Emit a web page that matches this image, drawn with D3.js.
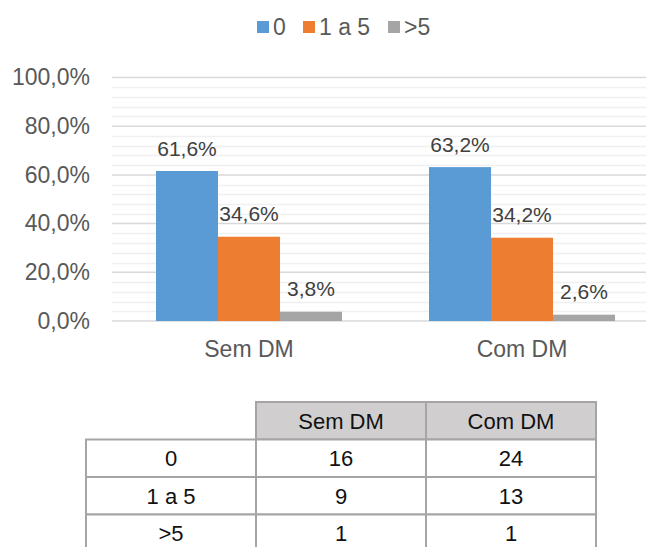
<!DOCTYPE html>
<html>
<head>
<meta charset="utf-8">
<script src="https://cdn.jsdelivr.net/npm/d3@7"></script>
<style>
  html, body { margin: 0; padding: 0; background: #fff; }
  svg { display: block; font-family: "Liberation Sans", Arial, sans-serif; }
</style>
</head>
<body>
<svg id="chart" width="646" height="547"></svg>
<script>
// ---- data ----
const categories = ["Sem DM", "Com DM"];
const seriesNames = ["0", "1 a 5", ">5"];
const seriesColors = ["#5b9bd5", "#ed7d31", "#a5a5a5"];
const values0 = [61.6, 63.2];
const values1to5 = [34.6, 34.2];
const valuesOver5 = [3.8, 2.6];
const yTicks = [0, 20, 40, 60, 80, 100];
const tableRowLabels = ["0", "1 a 5", ">5"];
const tableSemDM = [16, 9, 1];
const tableComDM = [24, 13, 1];

const seriesValues = [values0, values1to5, valuesOver5];
const fmt = v => d3.format(".1f")(v).replace(".", ",") + "%";

const svg = d3.select("#chart");

// ---- scales ----
const y = d3.scaleLinear().domain([0, 100]).range([321, 77.5]);
const x0 = d3.scaleBand().domain(categories).range([112.5, 658.5])
  .paddingInner(0.3187).paddingOuter(0.1593);
const x1 = d3.scaleBand().domain(seriesNames).range([0, x0.bandwidth()]);

// ---- gridlines ----
const minorTicks = d3.range(0, 101, 4).filter(v => v % 20 !== 0);
svg.append("g").selectAll("line").data(minorTicks).join("line")
  .attr("x1", 112).attr("x2", 658)
  .attr("y1", d => Math.round(y(d)) + 0.5).attr("y2", d => Math.round(y(d)) + 0.5)
  .attr("stroke", "#f0f0f0").attr("stroke-width", 1.5);
svg.append("g").selectAll("line").data(yTicks).join("line")
  .attr("x1", 112).attr("x2", 658)
  .attr("y1", d => y(d)).attr("y2", d => y(d))
  .attr("stroke", "#d9d9d9").attr("stroke-width", 1.5);

// ---- y axis labels ----
const yAxis = d3.axisLeft(y).tickValues(yTicks).tickFormat(fmt).tickSize(0).tickPadding(0);
const gy = svg.append("g").attr("transform", "translate(90,0)").call(yAxis);
gy.select(".domain").remove();
gy.selectAll("text").attr("font-size", 23).attr("fill", "#595959")
  .attr("font-family", "'Liberation Sans', Arial, sans-serif");

// ---- bars ----
const groups = svg.append("g").selectAll("g").data(categories).join("g")
  .attr("transform", d => `translate(${x0(d)},0)`);
groups.selectAll("rect")
  .data((c, ci) => seriesNames.map((s, si) => ({ s, si, v: seriesValues[si][ci] })))
  .join("rect")
  .attr("x", d => x1(d.s)).attr("width", x1.bandwidth())
  .attr("y", d => y(d.v)).attr("height", d => y(0) - y(d.v))
  .attr("fill", d => seriesColors[d.si]);
groups.selectAll("text")
  .data((c, ci) => seriesNames.map((s, si) => ({ s, si, v: seriesValues[si][ci] })))
  .join("text")
  .attr("x", d => x1(d.s) + x1.bandwidth() / 2)
  .attr("y", d => y(d.v) - 15.5)
  .attr("text-anchor", "middle").attr("font-size", 21).attr("fill", "#404040")
  .text(d => fmt(d.v));

// ---- x axis ----
const xAxis = d3.axisBottom(x0).tickSize(0).tickPadding(0);
const gx = svg.append("g").attr("transform", "translate(0,321)").call(xAxis);
gx.select(".domain").remove();
gx.selectAll("text").attr("font-size", 23).attr("fill", "#595959")
  .attr("dy", null).attr("y", 36)
  .attr("font-family", "'Liberation Sans', Arial, sans-serif");

// ---- legend ----
const legendX = [257, 303, 388];
const lg = svg.append("g").selectAll("g").data(seriesNames).join("g")
  .attr("transform", (d, i) => `translate(${legendX[i]},21)`);
lg.append("rect").attr("width", 12).attr("height", 12).attr("fill", (d, i) => seriesColors[i]);
lg.append("text").attr("x", 16).attr("y", 14).attr("font-size", 23).attr("fill", "#595959")
  .text(d => d);

// ---- table ----
const colX = d3.scaleBand().domain(["label", ...categories]).range([86, 596]);
const rowY = d3.scaleBand().domain(["header", ...tableRowLabels]).range([402, 552]);
const tg = svg.append("g");
const border = "#a5a5a5";
// header cells
categories.forEach(c => {
  tg.append("rect").attr("x", colX(c)).attr("y", rowY("header"))
    .attr("width", colX.bandwidth()).attr("height", rowY.bandwidth())
    .attr("fill", "#d0cece").attr("stroke", border).attr("stroke-width", 2);
  tg.append("text").attr("x", colX(c) + colX.bandwidth() / 2)
    .attr("y", rowY("header") + rowY.bandwidth() / 2 + 8)
    .attr("text-anchor", "middle").attr("font-size", 22).attr("fill", "#111")
    .text(c);
});
// body cells
tableRowLabels.forEach((r, ri) => {
  const rowVals = [r, tableSemDM[ri], tableComDM[ri]];
  ["label", ...categories].forEach((c, ci) => {
    tg.append("rect").attr("x", colX(c)).attr("y", rowY(r))
      .attr("width", colX.bandwidth()).attr("height", rowY.bandwidth())
      .attr("fill", "#fff").attr("stroke", border).attr("stroke-width", 2);
    tg.append("text").attr("x", colX(c) + colX.bandwidth() / 2)
      .attr("y", rowY(r) + rowY.bandwidth() / 2 + 8)
      .attr("text-anchor", "middle").attr("font-size", 22).attr("fill", "#111")
      .text(rowVals[ci]);
  });
});
</script>
</body>
</html>
